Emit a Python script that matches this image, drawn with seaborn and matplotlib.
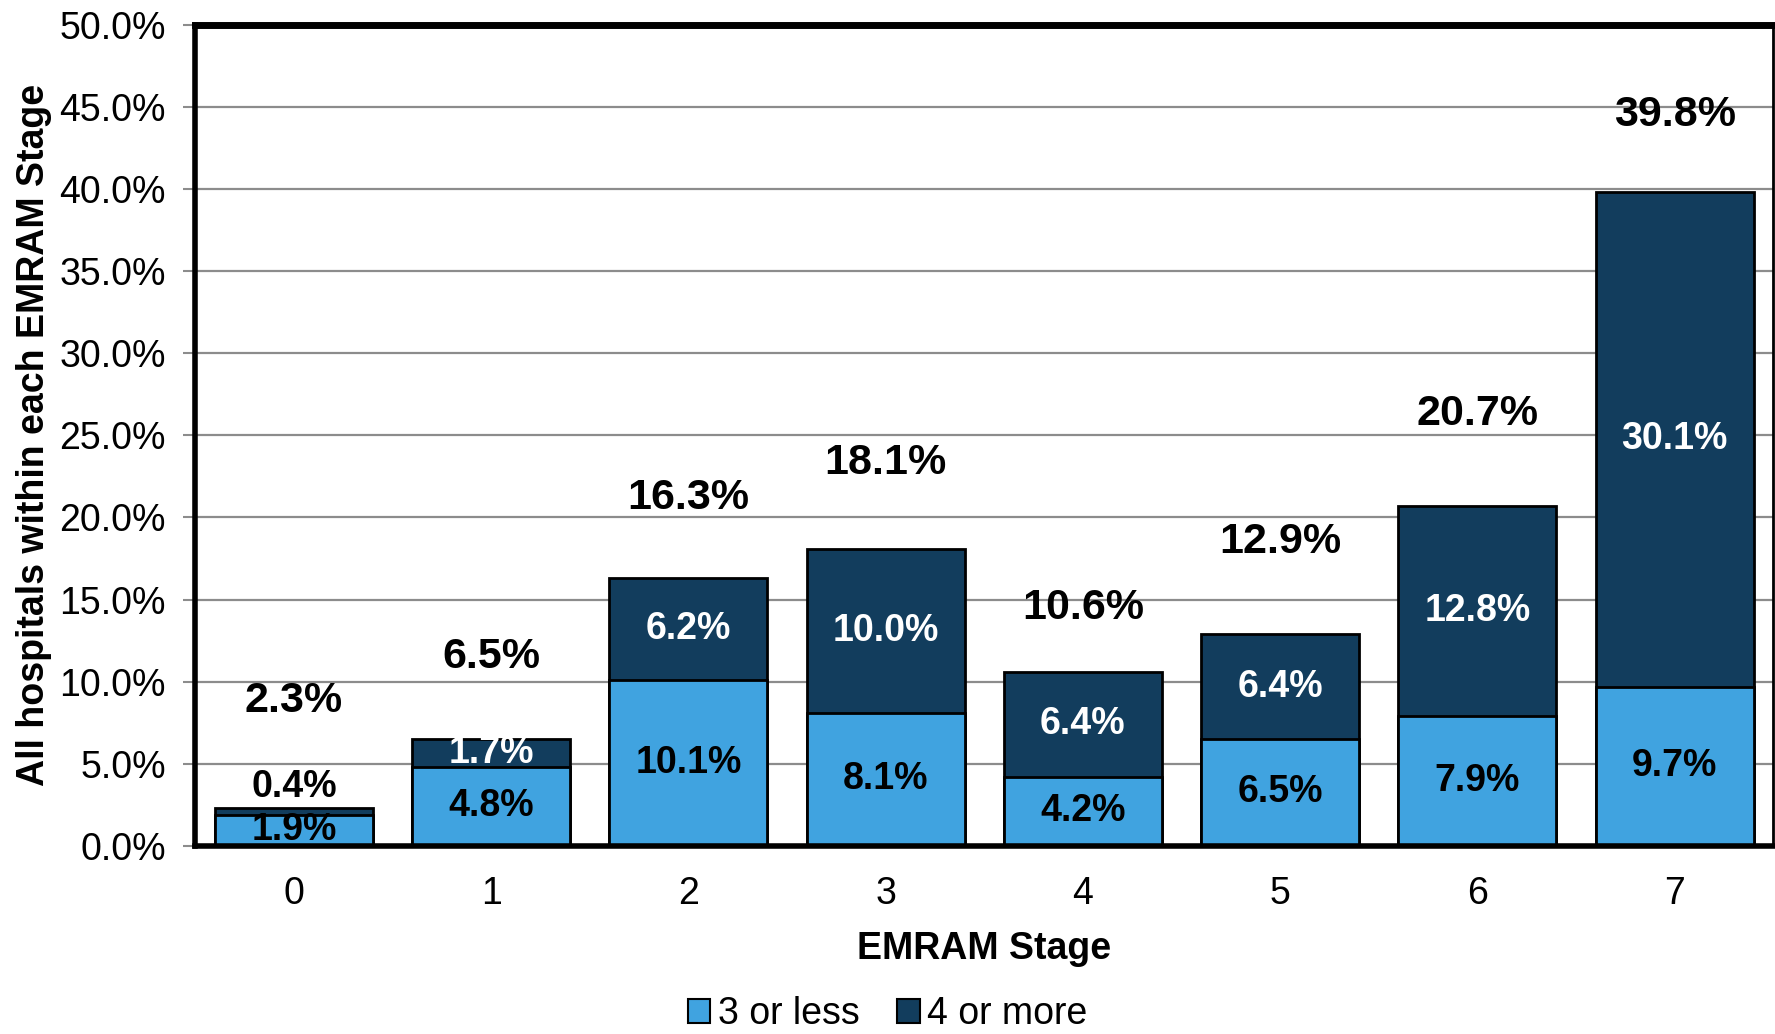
import matplotlib
matplotlib.use("Agg")
import matplotlib.pyplot as plt
from matplotlib.patches import Patch
from matplotlib.ticker import FixedLocator, FuncFormatter
import numpy as np
import pandas as pd
import seaborn as sns

# EMRAM stages and share of hospitals per stage (percent)
stages = ["0", "1", "2", "3", "4", "5", "6", "7"]
three_or_less = [1.9, 4.8, 10.1, 8.1, 4.2, 6.5, 7.9, 9.7]
four_or_more = [0.4, 1.7, 6.2, 10.0, 6.4, 6.4, 12.8, 30.1]
series_names = ["3 or less", "4 or more"]
y_ticks = [0, 5, 10, 15, 20, 25, 30, 35, 40, 45, 50]

# vertical gap between a bar's top and its total label (percentage points)
total_label_gap = [6.5, 5.0, 4.9, 5.2, 3.9, 5.6, 5.6, 4.7]

LIGHT = "#40A3E0"
DARK = "#123D5D"

sns.set_style("white")
plt.rcParams["font.family"] = ["Liberation Sans", "DejaVu Sans"]
plt.rcParams.update({"text.color": "black", "axes.labelcolor": "black",
                     "xtick.labelcolor": "black", "ytick.labelcolor": "black"})

totals = [round(a + b, 1) for a, b in zip(three_or_less, four_or_more)]
df = pd.DataFrame({"stage": stages, "low": three_or_less,
                   "high": four_or_more, "total": totals})

fig = plt.figure(figsize=(17.75, 10.34), dpi=100)
ax = fig.add_axes([0.110, 0.182, 0.889, 0.794])

# stacked bars: full-height dark bar, light lower segment drawn over it
sns.barplot(data=df, x="stage", y="total", order=stages, color=DARK,
            saturation=1, width=0.8, edgecolor="black", linewidth=2,
            ax=ax, zorder=3)
sns.barplot(data=df, x="stage", y="low", order=stages, color=LIGHT,
            saturation=1, width=0.8, edgecolor="black", linewidth=2,
            ax=ax, zorder=4)

ax.set_xlim(-0.5, len(stages) - 0.5)
ax.set_ylim(0, 50)
ax.yaxis.set_major_locator(FixedLocator(y_ticks))
ax.yaxis.set_major_formatter(FuncFormatter(lambda v, _: f"{v:.1f}%"))
ax.grid(axis="y", color="#8c8c8c", linewidth=1.6, zorder=0)
ax.set_axisbelow(True)

# category boundary tick marks
ax.xaxis.set_minor_locator(FixedLocator(np.arange(-0.5, len(stages), 1.0)))
ax.tick_params(axis="x", which="major", length=0, labelsize=27, pad=22,
               labelcolor="black")
ax.tick_params(axis="x", which="minor", length=10, width=1.5,
               color="#8c8c8c", direction="out")
ax.tick_params(axis="y", which="major", length=9, width=1.5,
               color="#8c8c8c", direction="out", labelsize=27, pad=12,
               left=True, labelcolor="black")

for side, lw in [("left", 4), ("top", 5), ("right", 2), ("bottom", 4)]:
    ax.spines[side].set_visible(True)
    ax.spines[side].set_color("black")
    ax.spines[side].set_linewidth(lw)
    ax.spines[side].set_zorder(6)

# segment labels
for i, (lo, hi, tot) in enumerate(zip(three_or_less, four_or_more, totals)):
    ax.text(i, lo / 2, f"{lo:.1f}%", ha="center", va="center",
            fontsize=27, fontweight="bold", color="black", zorder=7)
    if hi < 1.0:
        ax.text(i, tot + 1.3, f"{hi:.1f}%", ha="center", va="center",
                fontsize=27, fontweight="bold", color="black", zorder=7)
    else:
        ax.text(i, lo + hi / 2, f"{hi:.1f}%", ha="center", va="center",
                fontsize=27, fontweight="bold", color="white", zorder=7)
    ax.text(i, tot + total_label_gap[i], f"{tot:.1f}%", ha="center",
            va="center", fontsize=31, fontweight="bold", color="black",
            zorder=7)

ax.set_xlabel("EMRAM Stage", fontsize=27, fontweight="bold", color="black")
ax.set_ylabel("All hospitals within each EMRAM Stage", fontsize=27,
              fontweight="bold", color="black")
ax.xaxis.set_label_coords(0.5, -0.104)
ax.yaxis.set_label_coords(-0.091, 0.5)

handles = [Patch(facecolor=LIGHT, edgecolor="black", linewidth=1.5),
           Patch(facecolor=DARK, edgecolor="black", linewidth=1.5)]
fig.legend(handles, series_names, loc="lower center",
           bbox_to_anchor=(0.5, -0.031), ncol=2, frameon=False, fontsize=27,
           handlelength=0.6, handleheight=0.6, handletextpad=0.2,
           columnspacing=1.0)

fig.savefig("out.png", dpi=100)
